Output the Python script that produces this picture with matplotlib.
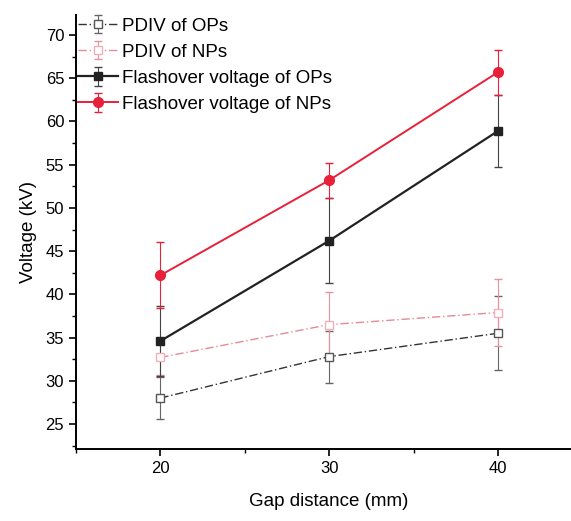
import matplotlib
matplotlib.use('Agg')
import matplotlib.pyplot as plt
from matplotlib.ticker import MultipleLocator

plt.rcParams['font.family'] = ['Liberation Sans', 'DejaVu Sans']

gap = [20, 30, 40]
pdiv_op = [28.0, 32.8, 35.5]
pdiv_op_err = [2.4, 3.0, 4.3]
pdiv_np = [32.7, 36.5, 37.9]
pdiv_np_err = [2.0, 3.8, 3.9]
flash_op = [34.6, 46.2, 58.9]
flash_op_err = [4.0, 4.9, 4.2]
flash_np = [42.2, 53.2, 65.7]
flash_np_err = [3.8, 2.0, 2.6]

fig = plt.figure(figsize=(5.71, 5.21), dpi=100)
ax = fig.add_axes([0.133, 0.138, 0.887, 0.833])

ax.errorbar(gap, pdiv_op, yerr=pdiv_op_err, color='#333333', ls=(0, (6, 2, 1, 2)), lw=1.0,
            marker='s', ms=6, mfc='white', mec='#555555', ecolor='#666666', elinewidth=0.8,
            capsize=3, label='PDIV of OPs')
ax.errorbar(gap, pdiv_np, yerr=pdiv_np_err, color='#e58a98', ls=(0, (6, 2, 1, 2)), lw=1.0,
            marker='s', ms=6, mfc='white', mec='#f0b0bb', ecolor='#e8909e', elinewidth=0.8,
            capsize=3, label='PDIV of NPs')
ax.errorbar(gap, flash_op, yerr=flash_op_err, color='#222222', lw=1.6,
            marker='s', ms=6, ecolor='#444444', elinewidth=0.8, capsize=3,
            label='Flashover voltage of OPs')
ax.errorbar(gap, flash_np, yerr=flash_np_err, color='#e8203a', lw=1.4,
            marker='o', ms=7, ecolor='#e8203a', elinewidth=0.8, capsize=3,
            label='Flashover voltage of NPs')

ax.set_xlim(15, 45)
ax.set_ylim(22.1, 72.3)
ax.xaxis.set_major_locator(MultipleLocator(10))
ax.xaxis.set_minor_locator(MultipleLocator(5))
ax.yaxis.set_major_locator(MultipleLocator(5))
ax.yaxis.set_minor_locator(MultipleLocator(2.5))
ax.set_xticks([20, 30, 40])
ax.spines['top'].set_visible(False)
ax.spines['right'].set_visible(False)
ax.spines['left'].set_linewidth(1.4)
ax.spines['bottom'].set_linewidth(1.4)
ax.tick_params(which='major', length=5, width=1.2, labelsize=12)
ax.tick_params(which='minor', length=3, width=1.0)

ax.set_xlabel('Gap distance (mm)', fontsize=13.5, labelpad=12)
ax.set_ylabel('Voltage (kV)', fontsize=13.5, labelpad=6)

ax.legend(loc='upper left', frameon=False, fontsize=13.5, handlelength=2.1,
          handletextpad=0.2, labelspacing=0.48, borderaxespad=0.0,
          bbox_to_anchor=(-0.01, 1.012))

fig.savefig('out.png', dpi=100)
